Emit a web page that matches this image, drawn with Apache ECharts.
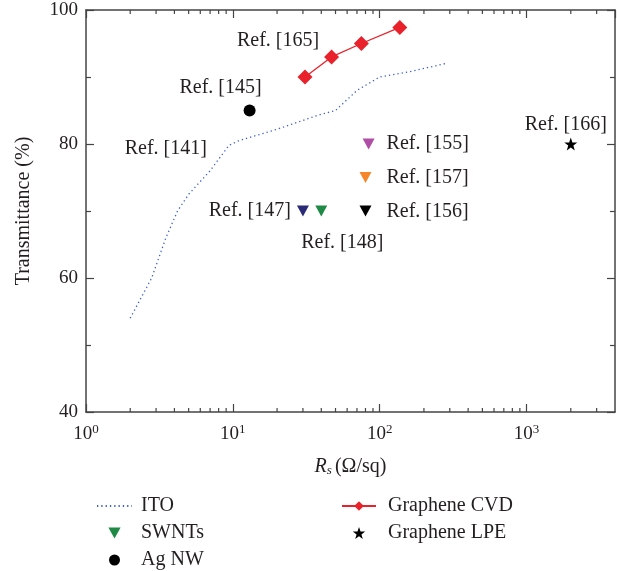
<!DOCTYPE html>
<html>
<head>
<meta charset="utf-8">
<script src="https://cdn.jsdelivr.net/npm/echarts@6/dist/echarts.min.js"></script>
<style>
  html, body { margin: 0; padding: 0; background: #fff; }
  #echarts_container { width: 617px; height: 571px; }
</style>
</head>
<body>
<div id="echarts_container"></div>
<script>
var chartDom = document.getElementById('echarts_container');
var myChart = echarts.init(chartDom);
var option;

// ITO curve (Ref. [141])
let itoRs = [2, 2.8, 3.5, 4.2, 5, 7, 9.4, 11, 20, 38, 50, 70, 100, 160, 280]
let itoT = [54, 60, 66, 70, 72.5, 76, 79.8, 80.5, 82.2, 84.3, 85, 88, 90, 90.8, 92]

// Graphene CVD (Ref. [165])
let cvdRs = [31, 47, 75, 137]
let cvdT = [90, 93, 95, 97.4]

// SWNTs
let swntRs = [30, 40, 84, 80, 80]
let swntT = [70, 70, 80, 75, 70]
let swntRefs = ['Ref. [147]', 'Ref. [148]', 'Ref. [155]', 'Ref. [157]', 'Ref. [156]']
let swntColors = ['#2a2a77', '#1f8a45', '#b04ea6', '#f7862a', '#000000']

// Ag NW (Ref. [145]) and Graphene LPE (Ref. [166])
let agRs = [13]
let agT = [85]
let lpeRs = [2000]
let lpeT = [80]

let minorTicksX = [2, 3, 4, 5, 6, 7, 8, 9, 20, 30, 40, 50, 60, 70, 80, 90, 200, 300, 400, 500, 600, 700, 800, 900, 2000, 3000]

const FONT = 'Liberation Serif'
const TXT = '#231f20'
const AXIS = '#444'
const DOWN_TRI = 'path://M0,0 L10,0 L5,9 Z'
const STAR = 'path://M50,0 L61.8,35.4 L97.6,35.4 L68.8,57.3 L79.4,92.7 L50,70.8 L20.6,92.7 L31.2,57.3 L2.4,35.4 L38.2,35.4 Z'

const refLabel = (text, position, offset) => ({
    show: true,
    formatter: text,
    position: position,
    offset: offset,
    fontFamily: FONT,
    fontSize: 20,
    color: TXT
})

// label placement for SWNT points
let swntLabelPos = [
    ['left', [-1, 0]],
    ['bottom', [21, 11]],
    ['right', [7, 0]],
    ['right', [10, 0]],
    ['right', [10, 1]]
]

const logLabel = (value) => {
    let p = Math.log10(value)
    if (Math.abs(p - Math.round(p)) > 1e-6) return ''
    return '{b|10}{s|' + Math.round(p) + '}'
}

const axisRich = {
    b: { fontFamily: FONT, fontSize: 19, color: TXT },
    s: { fontFamily: FONT, fontSize: 13, color: TXT, padding: [0, 0, 10, 0] }
}

option = {
    animation: false,
    textStyle: { fontFamily: FONT },
    grid: { left: 86, right: 2, top: 10, bottom: 159, containLabel: false },
    legend: [
        {
            data: [
                { name: 'ITO', itemStyle: { opacity: 0 } },
                'SWNTs',
                'Ag NW'
            ],
            orient: 'vertical',
            left: 96,
            top: 496,
            padding: 0,
            itemGap: 7,
            itemWidth: 35,
            itemHeight: 11,
            textStyle: { fontFamily: FONT, fontSize: 20, color: TXT, padding: [0, 0, 0, 4] }
        },
        {
            data: ['Graphene CVD', 'Graphene LPE'],
            orient: 'vertical',
            left: 341,
            top: 496,
            padding: 0,
            itemGap: 7,
            itemWidth: 34,
            itemHeight: 12,
            textStyle: { fontFamily: FONT, fontSize: 20, color: TXT, padding: [0, 0, 0, 7] }
        }
    ],
    xAxis: [
        {
            type: 'log',
            logBase: 10,
            min: 1,
            max: 4000,
            position: 'bottom',
            name: '{i|R}{sub|s} {t|(Ω/sq)}',
            nameLocation: 'middle',
            nameGap: 44,
            nameTextStyle: {
                rich: {
                    i: { fontFamily: FONT, fontSize: 20, fontStyle: 'italic', color: TXT },
                    sub: { fontFamily: FONT, fontSize: 13, fontStyle: 'italic', color: TXT, padding: [8, 0, 0, 0] },
                    t: { fontFamily: FONT, fontSize: 20, color: TXT }
                }
            },
            axisLine: { show: true, lineStyle: { color: AXIS, width: 1.5 } },
            axisTick: { show: true, inside: true, length: 8, lineStyle: { color: AXIS, width: 1.2 } },
            axisLabel: { formatter: logLabel, rich: axisRich, margin: 11, showMaxLabel: false },
            splitLine: { show: false }
        },
        {
            type: 'log',
            logBase: 10,
            min: 1,
            max: 4000,
            position: 'top',
            axisLine: { show: true, lineStyle: { color: AXIS, width: 1.5 } },
            axisTick: { show: true, inside: true, length: 8, lineStyle: { color: AXIS, width: 1.2 } },
            axisLabel: { show: false },
            splitLine: { show: false }
        }
    ],
    yAxis: [
        {
            type: 'value',
            min: 40,
            max: 100,
            interval: 20,
            position: 'left',
            name: 'Transmittance (%)',
            nameLocation: 'middle',
            nameGap: 52,
            nameTextStyle: { fontFamily: FONT, fontSize: 20, color: TXT },
            axisLine: { show: true, lineStyle: { color: AXIS, width: 1.5 } },
            axisTick: { show: true, inside: true, length: 8, lineStyle: { color: AXIS, width: 1.2 } },
            minorTick: { show: true, splitNumber: 2, length: 5, lineStyle: { color: AXIS, width: 1.2 } },
            axisLabel: { fontFamily: FONT, fontSize: 19, color: TXT, margin: 8 },
            splitLine: { show: false }
        },
        {
            type: 'value',
            min: 40,
            max: 100,
            interval: 20,
            position: 'right',
            axisLine: { show: true, lineStyle: { color: AXIS, width: 1.5 } },
            axisTick: { show: true, inside: true, length: 8, lineStyle: { color: AXIS, width: 1.2 } },
            minorTick: { show: true, splitNumber: 2, length: 5, lineStyle: { color: AXIS, width: 1.2 } },
            axisLabel: { show: false },
            splitLine: { show: false }
        }
    ],
    series: [
        {
            // minor ticks of the log axis, bottom and top
            type: 'custom',
            silent: true,
            xAxisIndex: 0,
            yAxisIndex: 0,
            clip: false,
            data: minorTicksX.map(v => [v, 40]),
            renderItem: function (params, api) {
                let x = api.coord([api.value(0), 40])[0]
                let cs = params.coordSys
                let style = { stroke: AXIS, lineWidth: 1.2 }
                return {
                    type: 'group',
                    children: [
                        { type: 'line', shape: { x1: x, y1: cs.y + cs.height, x2: x, y2: cs.y + cs.height - 4 }, style: style },
                        { type: 'line', shape: { x1: x, y1: cs.y, x2: x, y2: cs.y + 4 }, style: style }
                    ]
                }
            }
        },
        {
            name: 'ITO',
            type: 'line',
            symbol: 'none',
            showSymbol: true,
            color: '#3d5fd0',
            lineStyle: { color: '#3d5fd0', width: 1.3, type: [1.3, 3] },
            itemStyle: { color: '#3d5fd0' },
            data: itoRs.map((x, i) => {
                let item = { value: [x, itoT[i]] }
                if (x === 9.4) {
                    item.symbol = 'circle'
                    item.symbolSize = 0
                    item.label = refLabel('Ref. [141]', 'left', [-17, 3])
                }
                return item
            })
        },
        {
            name: 'Graphene CVD',
            type: 'line',
            symbol: 'diamond',
            symbolSize: 15,
            color: '#e8212b',
            lineStyle: { color: '#e8212b', width: 1.3 },
            itemStyle: { color: '#e8212b', opacity: 1 },
            data: cvdRs.map((x, i) => {
                let item = { value: [x, cvdT[i]] }
                if (i === 0) item.label = refLabel('Ref. [165]', 'top', [-27, -14])
                return item
            })
        },
        {
            name: 'SWNTs',
            type: 'scatter',
            symbol: DOWN_TRI,
            symbolSize: [12, 11],
            color: '#1f8a45',
            itemStyle: { color: '#1f8a45', opacity: 1 },
            data: swntRs.map((x, i) => ({
                value: [x, swntT[i]],
                itemStyle: { color: swntColors[i], opacity: 1 },
                label: refLabel(swntRefs[i], swntLabelPos[i][0], swntLabelPos[i][1])
            }))
        },
        {
            name: 'Ag NW',
            type: 'scatter',
            symbol: 'circle',
            symbolSize: 12,
            color: '#000',
            itemStyle: { color: '#000', opacity: 1 },
            data: agRs.map((x, i) => ({
                value: [x, agT[i]],
                label: refLabel('Ref. [145]', 'top', [-29, -2])
            }))
        },
        {
            name: 'Graphene LPE',
            type: 'scatter',
            symbol: STAR,
            symbolSize: 13,
            color: '#000',
            itemStyle: { color: '#000', opacity: 1 },
            data: lpeRs.map((x, i) => ({
                value: [x, lpeT[i]],
                label: refLabel('Ref. [166]', 'top', [-5, 2])
            }))
        }
    ]
};

option && myChart.setOption(option);
</script>
</body>
</html>
